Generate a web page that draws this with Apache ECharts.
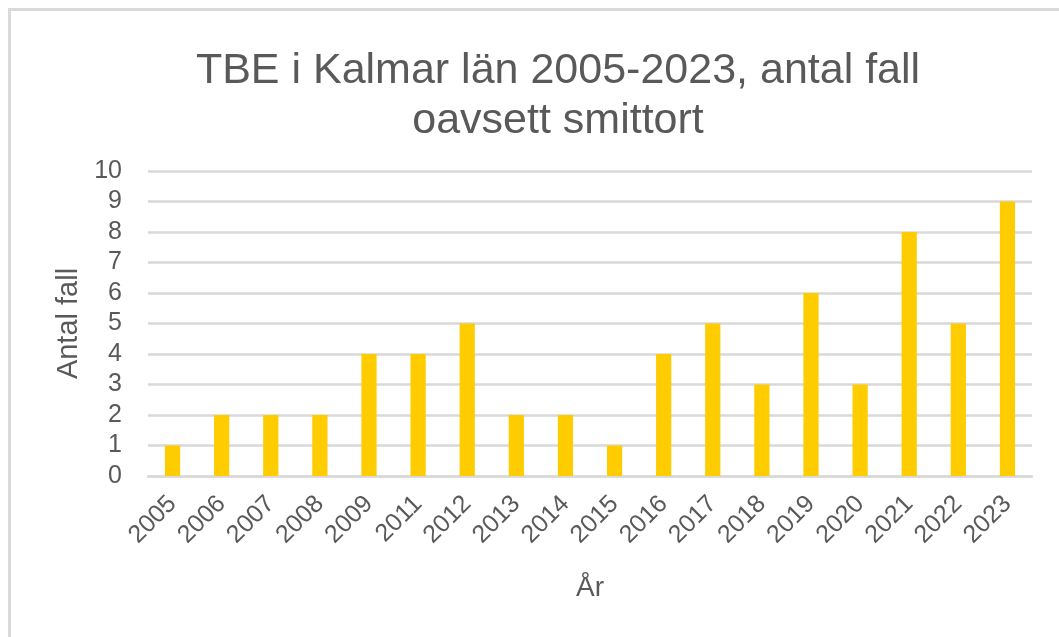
<!DOCTYPE html>
<html>
<head>
<meta charset="utf-8">
<script src="https://cdn.jsdelivr.net/npm/echarts@6/dist/echarts.min.js"></script>
<style>
  html, body { margin: 0; padding: 0; background: #fff; overflow: hidden; }
  #frame {
    position: absolute; left: 8px; top: 8px; right: 0; bottom: 0;
    border-left: 3px solid #d9d9d9; border-top: 3px solid #d9d9d9;
  }
  #chart { position: absolute; left: 0; top: 0; width: 1059px; height: 637px; }
</style>
</head>
<body>
<div id="frame"></div>
<div id="chart"></div>
<script>
  // år (2010 saknas i källan)
  const years = ['2005', '2006', '2007', '2008', '2009', '2011', '2012', '2013', '2014',
    '2015', '2016', '2017', '2018', '2019', '2020', '2021', '2022', '2023']
  const cases = [1, 2, 2, 2, 4, 4, 5, 2, 2, 1, 4, 5, 3, 6, 3, 8, 5, 9]

  const textColor = '#595959'
  const font = 'Liberation Sans, Arial, sans-serif'

  let chart = echarts.init(document.getElementById('chart'), null, {renderer: 'canvas'})
  chart.setOption({
    animation: false,
    title: {
      text: 'TBE i Kalmar län 2005-2023, antal fall\noavsett smittort',
      left: 553,
      textAlign: 'center',
      top: 41,
      textStyle: {
        color: textColor, fontFamily: font, fontSize: 43, fontWeight: 'normal', lineHeight: 50
      }
    },
    grid: {left: 148, right: 27, top: 171, bottom: 161},
    xAxis: {
      type: 'category',
      data: years,
      name: 'År',
      nameLocation: 'middle',
      nameGap: 98,
      nameTextStyle: {color: textColor, fontFamily: font, fontSize: 28},
      axisLine: {lineStyle: {color: '#d9d9d9', width: 2.5}},
      axisTick: {show: false},
      axisLabel: {
        rotate: 45, interval: 0, margin: 24,
        color: textColor, fontFamily: font, fontSize: 25
      }
    },
    yAxis: {
      type: 'value',
      min: 0, max: 10, interval: 1,
      name: 'Antal fall',
      nameLocation: 'middle',
      nameGap: 64,
      nameTextStyle: {color: textColor, fontFamily: font, fontSize: 29},
      axisLine: {show: false},
      axisTick: {show: false},
      axisLabel: {color: textColor, fontFamily: font, fontSize: 25, margin: 26},
      splitLine: {lineStyle: {color: '#d9d9d9', width: 2.5}}
    },
    series: [{
      type: 'bar',
      data: cases,
      barWidth: '31%',
      itemStyle: {color: '#ffcc00'}
    }]
  })
</script>
</body>
</html>
